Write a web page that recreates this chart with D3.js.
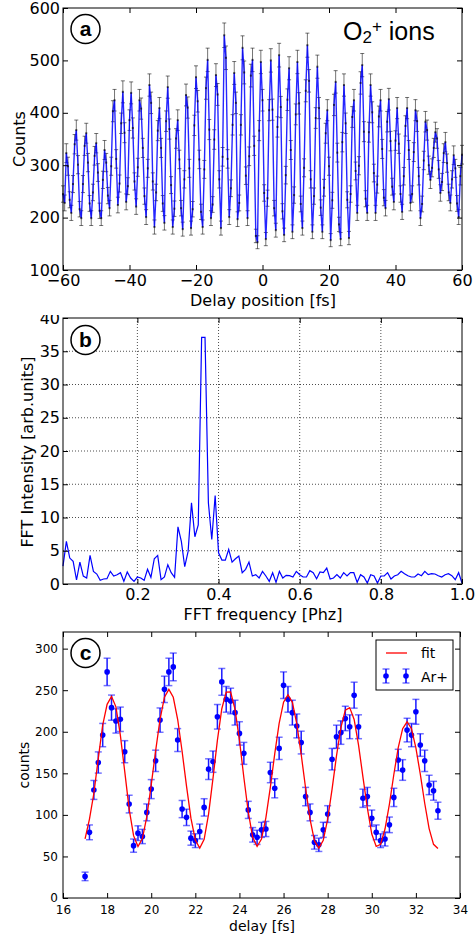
<!DOCTYPE html>
<html>
<head>
<meta charset="utf-8">
<script src="https://cdn.jsdelivr.net/npm/d3@7"></script>
<style>
body { margin: 0; background: #fff; }
</style>
</head>
<body>
<div id="chart"></div>
<script>
// (a) O2+ counts, delay -60..60 fs, one sample every 0.5 fs
var delayStart = -60, delayStep = 0.5;
var o2Counts = [
  245, 228, 323, 298, 234, 209, 264, 340, 367, 301,
  216, 199, 264, 337, 361, 305, 227, 199, 248, 318,
  342, 286, 213, 199, 272, 329, 305, 242, 218, 298,
  403, 424, 312, 224, 265, 380, 440, 362, 230, 260,
  386, 438, 371, 269, 221, 296, 424, 408, 333, 241,
  201, 294, 453, 419, 269, 182, 248, 366, 409, 333,
  227, 190, 384, 449, 369, 262, 182, 217, 351, 386,
  311, 218, 178, 273, 434, 410, 294, 180, 216, 376,
  468, 422, 311, 211, 182, 292, 447, 501, 368, 199,
  225, 349, 472, 435, 273, 180, 316, 548, 505, 312,
  201, 256, 377, 476, 419, 197, 228, 377, 524, 477,
  280, 199, 317, 471, 501, 337, 165, 153, 366, 497,
  424, 247, 159, 237, 405, 500, 406, 218, 176, 373,
  510, 411, 212, 167, 281, 425, 485, 329, 173, 243,
  397, 497, 418, 226, 180, 295, 442, 529, 461, 273,
  173, 241, 390, 488, 409, 219, 173, 257, 361, 405,
  298, 157, 233, 415, 459, 324, 187, 159, 344, 453,
  380, 234, 161, 245, 392, 424, 289, 209, 299, 457,
  491, 364, 236, 209, 363, 453, 401, 285, 209, 263,
  393, 424, 331, 238, 218, 383, 426, 346, 259, 230,
  347, 409, 341, 245, 211, 279, 375, 409, 329, 228,
  245, 325, 405, 384, 279, 199, 226, 309, 383, 367,
  300, 272, 295, 333, 363, 351, 292, 247, 268, 323,
  344, 304, 248, 228, 273, 319, 294, 227, 201, 279, 320
];
var aTicksX = [-60, -40, -20, 0, 20, 40, 60];
var aTicksY = [100, 200, 300, 400, 500, 600];

// (b) FFT spectrum, bins of 1/120 PHz starting at 2/120
var fftStart = 2 / 120, fftStep = 1 / 120;
var fftIntensity = [
  2.7, 6.4, 3.9, 3.4, 0.6, 3.3, 1.2, 0.9, 4.3, 1.9,
  1.5, 0.55, 0.75, 0.8, 1.9, 1.2, 1.4, 1.7, 0.4, 1.8,
  0.9, 0.4, 1.05, 0.9, 0.55, 2.2, 1.0, 3.8, 4.3, 0.65,
  1.05, 2.9, 1.7, 1.0, 8.6, 6.4, 2.6, 4.9, 12.2, 7.1,
  8.9, 37.1, 37.1, 12.2, 6.7, 13.3, 4.7, 3.6, 3.6, 5.2,
  3.3, 3.8, 4.2, 1.7, 2.2, 3.3, 1.2, 1.4, 0.9, 1.9,
  1.2, 0.4, 1.7, 0.25, 1.9, 0.9, 1.3, 1.25, 1.05, 1.9,
  1.4, 1.05, 1.05, 2.0, 1.7, 0.8, 1.8, 1.7, 2.4, 0.75,
  0.9, 1.4, 0.9, 1.7, 1.2, 1.7, 1.7, 0.25, 1.4, 1.05,
  0.15, 1.4, 1.2, 0.15, 1.2, 1.2, 1.7, 0.75, 1.2, 1.4,
  1.9, 1.55, 1.25, 1.05, 1.05, 1.5, 1.25, 1.9, 1.4, 1.55,
  1.5, 1.25, 1.05, 1.4, 1.55, 1.25, 0.65, 1.7, 0.15
];
var bTicksX = [0.2, 0.4, 0.6, 0.8, 1.0];
var bTicksY = [0, 5, 10, 15, 20, 25, 30, 35, 40];

// (c) Ar+ counts and fit, delay 17..33 fs every 0.2 fs
var arStart = 17, arStep = 0.2;
var arCounts = [
  26, 79, 130, 163, 196, 272, 229, 213, 215, 176,
  113, 63, 78, 74, 103, 131, 165, 214, 251, 272,
  278, 190, 107, 97, 72, 69, 80, 109, 155, 164,
  218, 260, 239, 237, 223, 198, 174, 106, 76, 73,
  82, 83, 151, 132, 180, 256, 239, 223, 207, 187,
  122, 103, 67, 64, 82, 101, 167, 194, 199, 216,
  206, 244, 206, 120, 122, 96, 79, 69, 71, 88,
  121, 166, 154, 202, 196, 224, 184, 165, 136, 129,
  105
];
var arFit = [
  71, 95, 126, 168, 208, 233, 242.5, 230, 196, 152,
  107, 75, 62, 71.5, 98, 136, 177, 215, 241.6, 251,
  241.5, 214.7, 176.5, 134.5, 96, 69.6, 60, 70.5, 101, 144,
  189.6, 227.7, 247.7, 247.8, 227, 190, 145, 103.5, 73, 62,
  71, 96.7, 133, 173.4, 210, 235.5, 244.6, 235.4, 209.5, 172.6,
  132, 95, 69, 60, 69.4, 95, 131, 171, 205, 226,
  229, 214.8, 184, 145.5, 108, 77, 62, 64.6, 83, 113,
  148.6, 181, 203.7, 212, 203.6, 180.5, 149, 114, 83.5, 64.6,
  59.5
];
var cTicksX = [16, 18, 20, 22, 24, 26, 28, 30, 32, 34];
var cTicksY = [0, 50, 100, 150, 200, 250, 300];

var FONT = "'DejaVu Sans', sans-serif";
var svg = d3.select("#chart").append("svg")
  .attr("width", 475).attr("height", 940)
  .style("font-family", FONT);

// ticks pointing inwards on all four sides, labels left and bottom
function axes(g, x, y, xt, yt, xfmt, fs, padX, padY) {
  var xr = x.range(), yr = y.range();
  var ax = [
    g.append("g").attr("transform", "translate(0," + yr[0] + ")")
      .call(d3.axisBottom(x).tickValues(xt).tickSize(-5).tickPadding(padX).tickFormat(xfmt)),
    g.append("g").attr("transform", "translate(0," + yr[1] + ")")
      .call(d3.axisTop(x).tickValues(xt).tickSize(-5).tickFormat("")),
    g.append("g").attr("transform", "translate(" + xr[0] + ",0)")
      .call(d3.axisLeft(y).tickValues(yt).tickSize(-5).tickPadding(padY)),
    g.append("g").attr("transform", "translate(" + xr[1] + ",0)")
      .call(d3.axisRight(y).tickValues(yt).tickSize(-5).tickFormat(""))
  ];
  ax.forEach(function(a) {
    a.attr("font-family", FONT).attr("font-size", fs);
    a.select(".domain").remove();
    a.selectAll(".tick line").attr("stroke", "#000");
    a.selectAll(".tick text").attr("fill", "#000");
  });
  g.append("rect")
    .attr("x", xr[0]).attr("y", yr[1])
    .attr("width", xr[1] - xr[0]).attr("height", yr[0] - yr[1])
    .attr("fill", "none").attr("stroke", "#000").attr("stroke-width", 1);
}

function panelLabel(g, cx, cy, ch) {
  g.append("circle").attr("cx", cx).attr("cy", cy).attr("r", 14.5)
    .attr("fill", "#fff").attr("stroke", "#000").attr("stroke-width", 1.5);
  g.append("text").attr("x", cx).attr("y", cy + 7)
    .attr("text-anchor", "middle")
    .attr("font-family", "'Liberation Sans', Arial, sans-serif")
    .attr("font-weight", "bold").attr("font-size", 21)
    .text(ch);
}

/* ---------- (a) ---------- */
var ga = svg.append("g");
var xa = d3.scaleLinear().domain([-60, 60]).range([63, 462]);
var ya = d3.scaleLinear().domain([100, 600]).range([270, 8]);
var aData = o2Counts.map(function(v, i) {
  return { t: delayStart + i * delayStep, v: v, e: Math.sqrt(v) }; // Poisson error
});

var eb = ga.append("g").attr("stroke", "#000").attr("stroke-opacity", 0.55).attr("stroke-width", 1);
eb.selectAll("line.v").data(aData).enter().append("line")
  .attr("x1", function(d) { return xa(d.t); }).attr("x2", function(d) { return xa(d.t); })
  .attr("y1", function(d) { return ya(d.v - d.e); }).attr("y2", function(d) { return ya(d.v + d.e); });
[-1, 1].forEach(function(s) {
  eb.selectAll("line.cap" + s).data(aData).enter().append("line")
    .attr("x1", function(d) { return xa(d.t) - 2; }).attr("x2", function(d) { return xa(d.t) + 2; })
    .attr("y1", function(d) { return ya(d.v + s * d.e); }).attr("y2", function(d) { return ya(d.v + s * d.e); });
});

ga.append("path").datum(aData)
  .attr("d", d3.line().x(function(d) { return xa(d.t); }).y(function(d) { return ya(d.v); }))
  .attr("fill", "none").attr("stroke", "#0000ff").attr("stroke-width", 1.4)
  .attr("stroke-opacity", 0.85);

ga.selectAll("rect.pt").data(aData).enter().append("rect")
  .attr("x", function(d) { return xa(d.t) - 1; }).attr("y", function(d) { return ya(d.v) - 1; })
  .attr("width", 2).attr("height", 2).attr("fill", "#000").attr("fill-opacity", 0.6);

axes(ga, xa, ya, aTicksX, aTicksY, d3.format("d"), 16, 5, 3);
panelLabel(ga, 85.5, 29, "a");
var ion = ga.append("text").attr("x", 343).attr("y", 40)
  .attr("font-family", "'Liberation Sans', Arial, sans-serif").attr("font-size", 25);
ion.append("tspan").text("O");
ion.append("tspan").attr("font-size", 17).attr("dy", 3).text("2");
ion.append("tspan").attr("font-size", 17).attr("dy", -11).text("+");
ion.append("tspan").attr("dy", 8).text(" ions");
ga.append("text").attr("x", 263).attr("y", 306).attr("text-anchor", "middle")
  .attr("font-size", 16).text("Delay position [fs]");
ga.append("text").attr("transform", "translate(25,139) rotate(-90)")
  .attr("text-anchor", "middle").attr("font-size", 16).text("Counts");

/* ---------- (b) ---------- */
svg.append("clipPath").attr("id", "clipB")
  .append("rect").attr("x", 0).attr("y", 315).attr("width", 475).attr("height", 310);
var gb = svg.append("g").attr("clip-path", "url(#clipB)");
var xb = d3.scaleLinear().domain([fftStart, 1.0]).range([63, 462]);
var yb = d3.scaleLinear().domain([0, 40]).range([584, 318]);

var grid = gb.append("g").attr("stroke", "#000").attr("stroke-width", 0.7)
  .attr("stroke-dasharray", "1,2");
grid.selectAll("line.gx").data(bTicksX.slice(0, -1)).enter().append("line")
  .attr("x1", function(d) { return xb(d); }).attr("x2", function(d) { return xb(d); })
  .attr("y1", 318).attr("y2", 584);
grid.selectAll("line.gy").data(bTicksY.slice(1, -1)).enter().append("line")
  .attr("x1", 63).attr("x2", 462)
  .attr("y1", function(d) { return yb(d); }).attr("y2", function(d) { return yb(d); });

gb.append("path").datum(fftIntensity)
  .attr("d", d3.line().x(function(d, i) { return xb(fftStart + i * fftStep); }).y(function(d) { return yb(d); }))
  .attr("fill", "none").attr("stroke", "#0000ff").attr("stroke-width", 1.2);

axes(gb, xb, yb, bTicksX, bTicksY, d3.format(".1f"), 16, 5, 3);
panelLabel(gb, 85.5, 340, "b");
gb.append("text").attr("x", 263).attr("y", 620).attr("text-anchor", "middle")
  .attr("font-size", 16).text("FFT frequency [Phz]");
gb.append("text").attr("transform", "translate(33,452) rotate(-90)")
  .attr("text-anchor", "middle").attr("font-size", 16).text("FFT Intensity [arb.units]");

/* ---------- (c) ---------- */
var gc = svg.append("g");
var xc = d3.scaleLinear().domain([16, 34]).range([63, 460]);
var yc = d3.scaleLinear().domain([0, 320]).range([898, 632]);
var cData = arCounts.map(function(v, i) {
  return { t: arStart + i * arStep, v: v, e: Math.sqrt(v), f: arFit[i] };
});

var ebc = gc.append("g").attr("stroke", "#0000ff").attr("stroke-width", 1.5);
ebc.selectAll("line.v").data(cData).enter().append("line")
  .attr("stroke-opacity", 0.9)
  .attr("x1", function(d) { return xc(d.t); }).attr("x2", function(d) { return xc(d.t); })
  .attr("y1", function(d) { return yc(d.v - d.e); }).attr("y2", function(d) { return yc(d.v + d.e); });
[-1, 1].forEach(function(s) {
  ebc.selectAll("line.cap" + s).data(cData).enter().append("line")
    .attr("stroke-opacity", 0.55)
    .attr("x1", function(d) { return xc(d.t) - 3.5; }).attr("x2", function(d) { return xc(d.t) + 3.5; })
    .attr("y1", function(d) { return yc(d.v + s * d.e); }).attr("y2", function(d) { return yc(d.v + s * d.e); });
});
gc.selectAll("circle.pt").data(cData).enter().append("circle")
  .attr("cx", function(d) { return xc(d.t); }).attr("cy", function(d) { return yc(d.v); })
  .attr("r", 2.8).attr("fill", "#0000ff");

gc.append("path").datum(cData)
  .attr("d", d3.line().x(function(d) { return xc(d.t); }).y(function(d) { return yc(d.f); }))
  .attr("fill", "none").attr("stroke", "#ff0000").attr("stroke-width", 1.3);

axes(gc, xc, yc, cTicksX, cTicksY, d3.format("d"), 12, 7, 5);
panelLabel(gc, 85.5, 653, "c");
gc.append("text").attr("x", 262).attr("y", 931).attr("text-anchor", "middle")
  .attr("font-size", 14).text("delay [fs]");
gc.append("text").attr("transform", "translate(29,765) rotate(-90)")
  .attr("text-anchor", "middle").attr("font-size", 14).text("counts");

// legend
var lg = gc.append("g");
lg.append("rect").attr("x", 376).attr("y", 640).attr("width", 77).attr("height", 50)
  .attr("fill", "#fff").attr("stroke", "#000").attr("stroke-width", 1);
lg.append("line").attr("x1", 386).attr("x2", 407).attr("y1", 653).attr("y2", 653)
  .attr("stroke", "#ff0000").attr("stroke-width", 1.3);
lg.append("text").attr("x", 421).attr("y", 658).attr("font-size", 14).text("fit");
[386, 406].forEach(function(x) {
  lg.append("line").attr("x1", x).attr("x2", x).attr("y1", 669).attr("y2", 683)
    .attr("stroke", "#0000ff").attr("stroke-width", 1.5);
  [669, 683].forEach(function(y) {
    lg.append("line").attr("x1", x - 3.5).attr("x2", x + 3.5).attr("y1", y).attr("y2", y)
      .attr("stroke", "#0000ff").attr("stroke-opacity", 0.55).attr("stroke-width", 1.5);
  });
  lg.append("circle").attr("cx", x).attr("cy", 676).attr("r", 2.8).attr("fill", "#0000ff");
});
lg.append("text").attr("x", 421).attr("y", 682).attr("font-size", 14).text("Ar+");
</script>
</body>
</html>
